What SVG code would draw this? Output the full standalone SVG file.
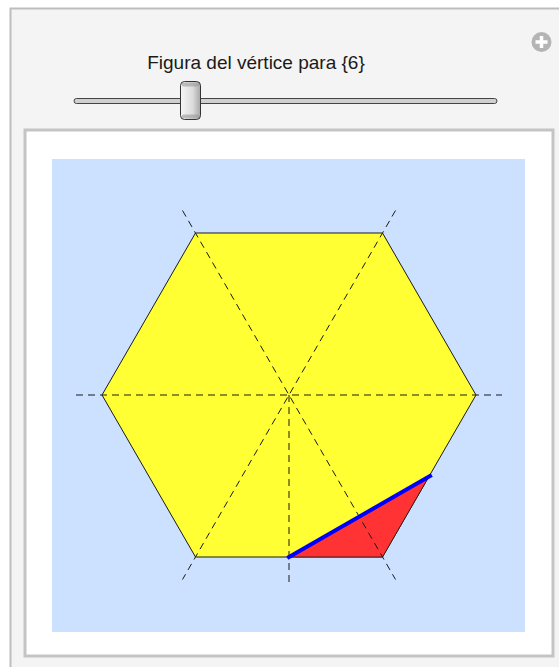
<svg xmlns="http://www.w3.org/2000/svg" width="559" height="667" viewBox="0 0 559 667">
<defs>
<style>
.dash{stroke:#1a1a1a;stroke-width:1;stroke-dasharray:7,5;fill:none}
.title{font-family:"Liberation Sans",Arial,sans-serif;font-size:19px;fill:#1a1a1a}
</style>
<linearGradient id="thumb" x1="0" y1="0" x2="1" y2="0">
<stop offset="0" stop-color="#f6f6f6"/>
<stop offset="0.6" stop-color="#dcdcdc"/>
<stop offset="1" stop-color="#a8a8a8"/>
</linearGradient>
</defs>
<rect x="0" y="0" width="559" height="667" fill="#ffffff"/>
<g id="panel">
<rect x="10.5" y="8.5" width="560" height="670" fill="#f4f4f4" stroke="#bdbdbd" stroke-width="2"/>
</g>
<g id="plus">
<circle cx="541.5" cy="42" r="10" fill="#b4b4b4"/>
<path d="M541.5 36v12M535.5 42h12" stroke="#ffffff" stroke-width="3.5"/>
</g>
<g id="title">
<text class="title" x="256" y="69" text-anchor="middle">Figura del vértice para {6}</text>
</g>
<g id="slider">
<rect x="74" y="98.5" width="423" height="5" rx="2.5" fill="#d0d0d0" stroke="#444" stroke-width="1"/>
<rect x="180.5" y="81.5" width="20" height="38" rx="4" fill="url(#thumb)" stroke="#333" stroke-width="1"/>
<rect x="181.5" y="82.5" width="18" height="4" rx="2" fill="#9a9a9a" opacity="0.6"/>
<rect x="181.5" y="114.5" width="18" height="4" rx="2" fill="#9a9a9a" opacity="0.6"/>
</g>
<g id="plotframe">
<rect x="25" y="130" width="528" height="526" fill="#ffffff" stroke="#c4c4c4" stroke-width="3"/>
<rect x="52" y="159" width="473" height="473" fill="#cce0ff"/>
</g>
<g id="hexagon">
<polygon points="102,395 195.5,233 382.5,233 476,395 382.5,557 195.5,557" fill="#ffff33" stroke="#1a1a1a" stroke-width="1"/>
</g>
<g id="triangle">
<polygon points="289,557 382.5,557 429.25,476" fill="#ff3333" stroke="#1a1a1a" stroke-width="0.8"/>
</g>
<g id="connectors">
<line class="dash" x1="76" y1="395" x2="502" y2="395"/>
<line class="dash" x1="182.5" y1="210.5" x2="395.5" y2="579.5"/>
<line class="dash" x1="395.5" y1="210.5" x2="182.5" y2="579.5"/>
<line class="dash" x1="289" y1="395" x2="289" y2="582"/>
</g>
<g id="edge">
<line x1="289" y1="557" x2="430" y2="476" stroke="#0000ff" stroke-width="4" stroke-linecap="square"/>
</g>
</svg>
